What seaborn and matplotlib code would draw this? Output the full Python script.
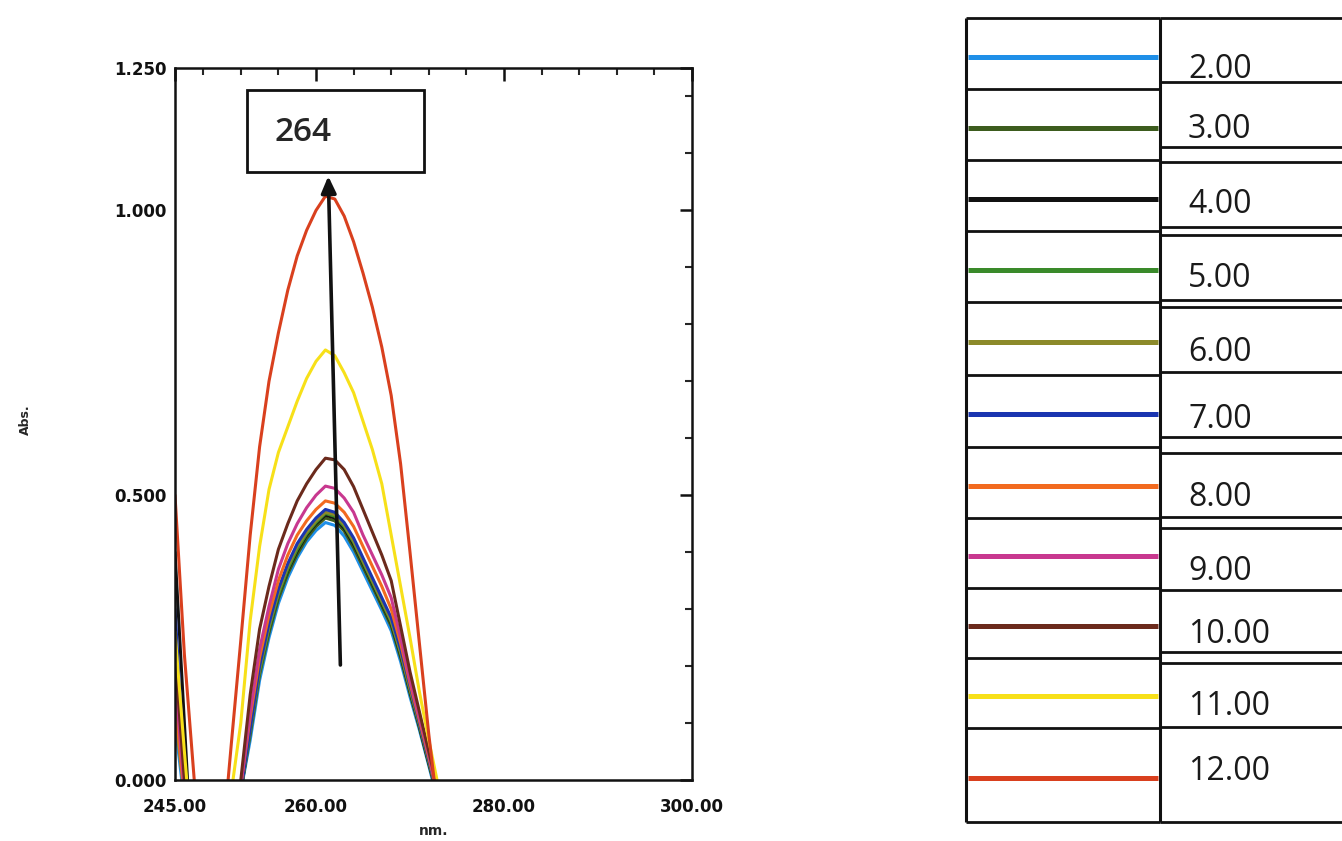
import numpy as np
import pandas as pd
import matplotlib
matplotlib.use("Agg")
import matplotlib.pyplot as plt
from matplotlib.patches import Rectangle
import seaborn as sns

# ---------------- data ----------------
wavelength = list(range(245, 276))  # nm, 1 nm step

ph_labels = ["2.00", "3.00", "4.00", "5.00", "6.00", "7.00",
             "8.00", "9.00", "10.00", "11.00", "12.00"]

neg = [-0.2, -0.3, -0.3, -0.3, -0.2]          # 247..251 (below axis)
tail = [-0.15, -0.25]                          # 274, 275

abs_ph2 = [0.10, -0.04] + neg + [-0.02, 0.07, 0.175, 0.25, 0.31, 0.355, 0.39, 0.418, 0.438, 0.452,
           0.447, 0.428, 0.40, 0.366, 0.332, 0.298, 0.262, 0.208, 0.146, 0.088, 0.025, -0.04] + tail
abs_ph3 = [0.20, -0.01] + neg + [-0.02, 0.08, 0.185, 0.258, 0.318, 0.362, 0.396, 0.424, 0.445, 0.46,
           0.455, 0.437, 0.408, 0.374, 0.34, 0.305, 0.27, 0.215, 0.152, 0.092, 0.028, -0.035] + tail
abs_ph4 = [0.40, 0.10] + neg + [-0.02, 0.09, 0.195, 0.265, 0.325, 0.368, 0.402, 0.43, 0.45, 0.465,
           0.46, 0.442, 0.414, 0.38, 0.345, 0.31, 0.275, 0.22, 0.156, 0.094, 0.03, -0.03] + tail
abs_ph5 = [0.16, -0.02] + neg + [-0.02, 0.085, 0.19, 0.265, 0.325, 0.37, 0.405, 0.432, 0.452, 0.468,
           0.463, 0.445, 0.417, 0.382, 0.347, 0.312, 0.277, 0.222, 0.158, 0.096, 0.032, -0.03] + tail
abs_ph6 = [0.12, -0.03] + neg + [-0.02, 0.09, 0.195, 0.27, 0.33, 0.375, 0.41, 0.435, 0.455, 0.47,
           0.466, 0.448, 0.42, 0.385, 0.35, 0.315, 0.28, 0.225, 0.16, 0.098, 0.033, -0.03] + tail
abs_ph7 = [0.30, 0.02] + neg + [-0.02, 0.09, 0.20, 0.275, 0.335, 0.38, 0.415, 0.44, 0.46, 0.475,
           0.47, 0.452, 0.425, 0.39, 0.355, 0.32, 0.285, 0.23, 0.165, 0.10, 0.035, -0.03] + tail
abs_ph8 = [0.14, -0.03] + neg + [-0.01, 0.11, 0.215, 0.29, 0.35, 0.395, 0.43, 0.455, 0.475, 0.49,
           0.486, 0.47, 0.445, 0.41, 0.375, 0.34, 0.30, 0.24, 0.17, 0.105, 0.04, -0.03] + tail
abs_ph9 = [0.18, -0.02] + neg + [-0.01, 0.12, 0.23, 0.305, 0.37, 0.415, 0.45, 0.478, 0.50, 0.516,
           0.512, 0.495, 0.47, 0.43, 0.395, 0.36, 0.32, 0.25, 0.175, 0.11, 0.045, -0.03] + tail
abs_ph10 = [0.22, 0.0] + neg + [0.0, 0.15, 0.265, 0.34, 0.405, 0.45, 0.49, 0.52, 0.545, 0.565,
            0.562, 0.545, 0.515, 0.475, 0.435, 0.395, 0.35, 0.27, 0.19, 0.12, 0.05, -0.02] + tail
abs_ph11 = [0.26, 0.05, -0.15, -0.25, -0.25, -0.2, -0.02, 0.10, 0.28, 0.41, 0.51, 0.575, 0.62, 0.665,
            0.705, 0.735, 0.755, 0.745, 0.715, 0.68, 0.63, 0.58, 0.52, 0.43, 0.34, 0.25, 0.155, 0.07,
            -0.01, -0.15, -0.25]
abs_ph12 = [0.50, 0.22, 0.01, -0.2, -0.25, -0.12, 0.065, 0.245, 0.43, 0.585, 0.70, 0.785, 0.86, 0.92,
            0.965, 1.0, 1.025, 1.02, 0.99, 0.945, 0.89, 0.83, 0.76, 0.675, 0.555, 0.40, 0.24, 0.08,
            -0.06, -0.2, -0.3]

series = [abs_ph2, abs_ph3, abs_ph4, abs_ph5, abs_ph6, abs_ph7,
          abs_ph8, abs_ph9, abs_ph10, abs_ph11, abs_ph12]

colors = ["#1f8fe8", "#3d5c1e", "#111111", "#3a8a2a", "#8c8a2a", "#1a35b0",
          "#f26a1f", "#c8388f", "#6b2a1c", "#f7e019", "#d9401e"]

x_tick_vals = [245, 260, 280, 300]
x_tick_labels = ["245.00", "260.00", "280.00", "300.00"]
y_tick_vals = [0.0, 0.5, 1.0, 1.25]
y_tick_labels = ["0.000", "0.500", "1.000", "1.250"]
peak_label = "264"

# ---------------- build frame ----------------
rows = []
for lab, vals in zip(ph_labels, series):
    for w, v in zip(wavelength, vals):
        rows.append({"nm": w, "Abs": v, "pH": lab})
df = pd.DataFrame(rows)
palette = dict(zip(ph_labels, colors))

sns.set_style("white")
plt.rcParams["font.family"] = ["DejaVu Sans"]
plt.rcParams["lines.solid_joinstyle"] = "round"

W, H = 1342, 841
fig = plt.figure(figsize=(W / 100, H / 100), dpi=100)
fig.patch.set_facecolor("white")

ax = fig.add_axes([175 / W, 1 - 780 / H, (692 - 175) / W, (780 - 68) / H])
sns.lineplot(data=df, x="nm", y="Abs", hue="pH", hue_order=ph_labels,
             palette=palette, estimator=None, sort=False, legend=False,
             linewidth=2.2, ax=ax)

ax.set_xlim(245, 300)
ax.set_ylim(0, 1.25)
ax.set_xticks(x_tick_vals)
ax.set_xticklabels(x_tick_labels)
ax.set_xticks([248, 252, 256, 264, 268, 272, 276, 284, 288, 292, 296], minor=True)
ax.set_yticks(y_tick_vals)
ax.set_yticklabels(y_tick_labels)
ax.set_yticks([0.1, 0.2, 0.3, 0.4, 0.6, 0.7, 0.8, 0.9, 1.1, 1.2], minor=True)
ax.tick_params(axis="both", which="major", direction="in", length=9, width=1.8,
               top=True, right=True, labelsize=12, colors="#111111")
ax.tick_params(axis="x", which="major", pad=13)
ax.tick_params(axis="y", which="major", pad=6)
ax.tick_params(axis="both", which="minor", direction="in", length=5, width=1.5,
               top=True, right=True)
for lab in ax.get_xticklabels() + ax.get_yticklabels():
    lab.set_fontweight("bold")
for sp in ax.spines.values():
    sp.set_linewidth(1.8)
    sp.set_color("#111111")
ax.set_xlabel("nm.", fontsize=10, fontweight="bold", labelpad=6)
ax.set_ylabel("")
fig.text(25 / W, 1 - 420 / H, "Abs.", rotation=90, fontsize=9, fontweight="bold",
         ha="center", va="center")

# annotation box and arrow
ax.add_patch(Rectangle((252.7, 1.067), 18.8, 0.144, fill=False, lw=2.0,
                       edgecolor="#111111", zorder=5, clip_on=False))
ax.text(255.6, 1.137, peak_label, fontsize=24, fontweight="semibold",
        family=["Open Sans", "DejaVu Sans"], va="center", ha="left", zorder=6)
ax.annotate("", xy=(261.3, 1.065), xytext=(262.6, 0.197),
            arrowprops=dict(arrowstyle="-|>,head_width=0.45,head_length=1.0",
                            lw=2.6, color="#111111"), zorder=6)

# ---------------- legend table ----------------
lx0, lx1, ly0, ly1 = 963, 1342, 14, 826
lax = fig.add_axes([lx0 / W, 1 - ly1 / H, (lx1 - lx0) / W, (ly1 - ly0) / H])
lax.set_xlim(lx0, lx1)
lax.set_ylim(ly1, ly0)
lax.axis("off")

left_rows = [18, 89, 160, 231, 302, 375, 447, 518, 588, 658, 728, 822]
right_rows = [18, 82, 147, 162, 227, 235, 300, 307, 372, 437, 453, 517, 528, 590, 652, 663, 727, 822]
label_base = [78, 138, 213, 287, 361, 428, 506, 580, 643, 715, 780]
col_x = 1160
lc = "#111111"
lax.vlines([966, col_x], 18, 822, color=lc, lw=2.2)
lax.hlines(left_rows, 966, col_x, color=lc, lw=2.0)
lax.hlines(right_rows, col_x, 1350, color=lc, lw=2.0)
for i, (lab, col) in enumerate(zip(ph_labels, colors)):
    yc = (left_rows[i] + left_rows[i + 1]) / 2 + 3
    lax.plot([968, 1158], [yc, yc], color=col, lw=3.6, solid_capstyle="butt")
    lax.text(1188, label_base[i], lab, fontsize=23, fontweight="medium",
             family=["Open Sans", "DejaVu Sans"],
             color="#1a1a1a", ha="left", va="baseline")

fig.savefig("out.png", dpi=100, facecolor="white")
